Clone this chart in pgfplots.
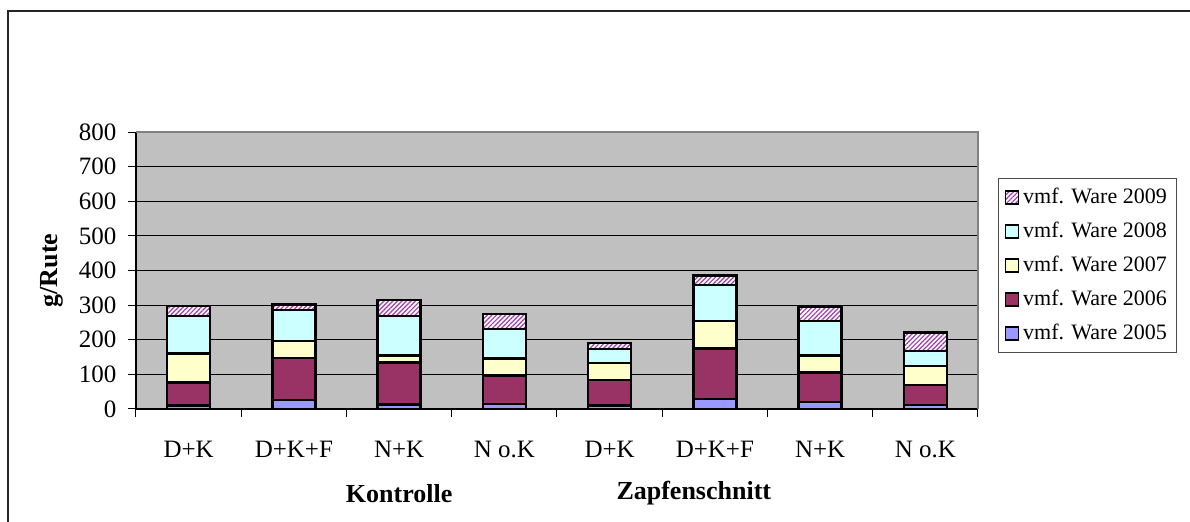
\documentclass[border=0pt]{standalone}
\usepackage{fontspec}
\setmainfont{Liberation Serif}
\usepackage{pgfplots}
\pgfplotsset{compat=1.18}
\usetikzlibrary{patterns.meta}
\definecolor{c05}{RGB}{153,153,255}
\definecolor{c06}{RGB}{153,51,102}
\definecolor{c07}{RGB}{255,255,204}
\definecolor{c08}{RGB}{204,255,255}
\definecolor{c09}{RGB}{160,60,170}
\definecolor{plotbg}{RGB}{192,192,192}
\begin{document}
\fontsize{11pt}{13pt}\selectfont
\begin{tikzpicture}
\useasboundingbox (0,0) rectangle (595pt,-261pt);
\draw[line width=1pt, black!85] (3.75pt,-275pt) -- (3.75pt,-5.75pt) -- (600pt,-5.75pt);
\begin{axis}[
  at={(68pt,-204.5pt)}, anchor=south west,
  scale only axis, width=421pt, height=138.5pt,
  ybar stacked, bar width=21.5pt,
  xmin=0.5, xmax=8.5, ymin=0, ymax=800,
  clip=false,
  axis x line*=bottom, axis y line*=left,
  axis line style={black, line width=0.8pt},
  axis background/.style={fill=plotbg},
  ytick={0,100,...,800},
  ymajorgrids, grid style={black, line width=0.5pt},
  xtick={0.5,1.5,...,8.5}, xticklabels={},
  extra x ticks={1,...,8},
  extra x tick labels={D+K, D+K+F, N+K, N o.K, D+K, D+K+F, N+K, N o.K},
  extra x tick style={major tick length=0pt, xticklabel style={yshift=-12pt}},
  tick align=outside, major tick length=4pt,
  tick style={black, line width=0.5pt},
  yticklabel style={xshift=-2pt},
  tick label style={font=\fontsize{12.5pt}{14pt}\selectfont},
  /pgf/number format/assume math mode=true,
  ylabel={\bfseries g/Rute},
  ylabel style={at={(axis description cs:-0.1,0.5)}, anchor=center, font=\fontsize{13pt}{15pt}\selectfont},
  every axis plot/.append style={draw=black, line width=1.2pt},
  legend style={at={(1.0238,0.835)}, anchor=north west, draw=black!70, line width=0.5pt, fill=white,
    inner xsep=3pt, inner ysep=3pt, row sep=3.6pt,
    font=\fontsize{11pt}{13pt}\selectfont, cells={anchor=west}},
  legend image code/.code={\draw[#1, line width=0.8pt] (0pt,-3.2pt) rectangle (6.5pt,3.2pt);},
  reverse legend,
]
\addplot[fill=c05] coordinates {(1,10) (2,26) (3,13) (4,14) (5,10) (6,28) (7,20) (8,11)};
\addplot[fill=c06] coordinates {(1,66) (2,122) (3,121) (4,83) (5,74) (6,147) (7,85) (8,59)};
\addplot[fill=c07] coordinates {(1,84) (2,48) (3,21) (4,49) (5,49) (6,79) (7,49) (8,55)};
\addplot[fill=c08] coordinates {(1,109) (2,90) (3,114) (4,85) (5,40) (6,104) (7,100) (8,42)};
\addplot[fill=white, postaction={pattern={Lines[angle=45, distance=1.6pt, line width=0.6pt]}, pattern color=c09}] coordinates {(1,29) (2,16) (3,45) (4,43) (5,18) (6,28) (7,40) (8,54)};
\legend{vmf. Ware 2005, vmf. Ware 2006, vmf. Ware 2007, vmf. Ware 2008, vmf. Ware 2009}
\draw[black!50, line width=0.6pt] (rel axis cs:0,1) -- (rel axis cs:1,1) -- (rel axis cs:1,0);
\node[font=\bfseries\fontsize{13pt}{15pt}\selectfont] at (axis cs:3.0,-243) {Kontrolle};
\node[font=\bfseries\fontsize{13pt}{15pt}\selectfont] at (axis cs:5.8,-243) {Zapfenschnitt};
\end{axis}
\end{tikzpicture}
\end{document}
